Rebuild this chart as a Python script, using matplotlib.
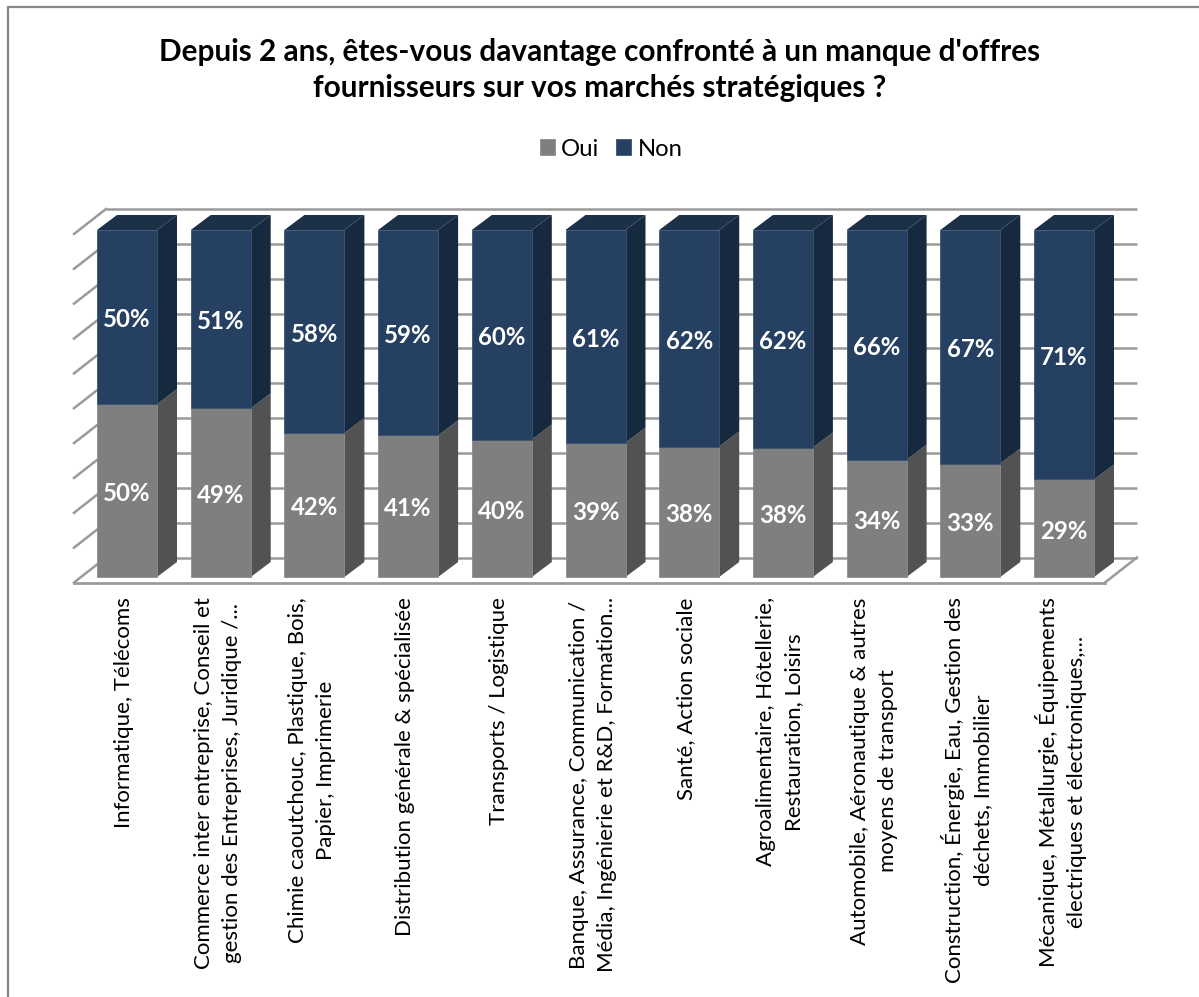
import matplotlib
matplotlib.use('Agg')
import matplotlib.pyplot as plt
from matplotlib.patches import Polygon, Rectangle

plt.rcParams['font.family'] = ['Lato', 'DejaVu Sans']

title = "Depuis 2 ans, êtes-vous davantage confronté à un manque d'offres\nfournisseurs sur vos marchés stratégiques ?"
categories = [
    "Informatique, Télécoms",
    "Commerce inter entreprise, Conseil et\ngestion des Entreprises, Juridique /...",
    "Chimie caoutchouc, Plastique, Bois,\nPapier, Imprimerie",
    "Distribution générale & spécialisée",
    "Transports / Logistique",
    "Banque, Assurance, Communication /\nMédia, Ingénierie et R&D, Formation...",
    "Santé, Action sociale",
    "Agroalimentaire, Hôtellerie,\nRestauration, Loisirs",
    "Automobile, Aéronautique & autres\nmoyens de transport",
    "Construction, Énergie, Eau, Gestion des\ndéchets, Immobilier",
    "Mécanique, Métallurgie, Équipements\nélectriques et électroniques,...",
]
# printed percentages
oui_labels = [50, 49, 42, 41, 40, 39, 38, 38, 34, 33, 29]
non_labels = [50, 51, 58, 59, 60, 61, 62, 62, 66, 67, 71]
# segment heights (labels are rounded)
oui = [49.8, 48.6, 41.5, 40.8, 39.6, 38.7, 37.6, 37.3, 33.8, 32.7, 28.1]
non = [50.2, 51.4, 58.5, 59.2, 60.4, 61.3, 62.4, 62.7, 66.2, 67.3, 71.9]

W, H = 1199, 997
step_px = 93.7      # distance between bars
y_px = 3.47         # pixels per 1%
x0_px, y0_px = 127, 577

fig = plt.figure(figsize=(W / 100, H / 100), dpi=100)
ax = fig.add_axes([0, 0, 1, 1])
ax.set_xlim(-x0_px / step_px, (W - x0_px) / step_px)
ax.set_ylim((y0_px - H) / y_px, y0_px / y_px)
ax.axis('off')

# depth of the 3d effect, in data units
dx = 20 / step_px
dy = 15 / y_px
half = 30 / step_px

# frame of the chart, only top and left are visible in the picture
fig.add_artist(Rectangle((8 / W, -20 / H), (W + 20) / W, (H + 20 - 6.5) / H, fill=False,
                         edgecolor='#868686', linewidth=1.6, transform=fig.transFigure))

# walls
wall_l = -half - 23 / step_px
wall_r = len(categories) - 1 + 71 / step_px - half
floor = -5.5 / y_px
wd = 32 / step_px
wh = 25 / y_px
grid_col = '#9a9a9a'
for i in range(11):
    yb = floor + wh + i * 10 * 34.85 / 34.7
    ax.plot([wall_l + wd, wall_r + wd], [yb, yb], color=grid_col, lw=1.8, zorder=1, solid_capstyle='butt')
    ax.plot([wall_l, wall_l + wd], [yb - wh, yb], color=grid_col, lw=1.8, zorder=1)
ax.plot([wall_l, wall_r], [floor, floor], color=grid_col, lw=2, zorder=1)
ax.plot([wall_r, wall_r + wd], [floor, floor + wh], color=grid_col, lw=1.8, zorder=1)

# bars
x = list(range(len(categories)))
w = 2 * half
ax.bar(x, oui, width=w, color='#7f7f7f', edgecolor='#8c8c8c', linewidth=0.6, zorder=3, label='Oui')
ax.bar(x, non, width=w, bottom=oui, color='#254061', edgecolor='#3a5270', linewidth=0.6, zorder=3, label='Non')

for i in x:
    r = i + half
    l = i - half
    top = oui[i] + non[i]
    ax.add_patch(Polygon([(r, 0), (r + dx, dy), (r + dx, oui[i] + dy), (r, oui[i])],
                         facecolor='#525252', edgecolor='none', zorder=2))
    ax.add_patch(Polygon([(r, oui[i]), (r + dx, oui[i] + dy), (r + dx, top + dy), (r, top)],
                         facecolor='#17293f', edgecolor='none', zorder=2))
    ax.add_patch(Polygon([(l, top), (r, top), (r + dx, top + dy), (l + dx, top + dy)],
                         facecolor='#1c3048', edgecolor='none', zorder=2))
    ax.text(i, oui[i] / 2 - 0.8, f'{oui_labels[i]}%', color='white', fontsize=17.3, fontweight='bold',
            ha='center', va='center', zorder=4)
    ax.text(i, oui[i] + non[i] / 2 - 0.8, f'{non_labels[i]}%', color='white', fontsize=17.3, fontweight='bold',
            ha='center', va='center', zorder=4)
    ax.text(i - 0.03, -5.8, categories[i], rotation=90, ha='center', va='top', fontsize=16,
            multialignment='center', color='black', linespacing=1.5)

fig.text(600 / W, 1 - 70 / H, title, ha='center', va='center', fontsize=21.4, fontweight='bold',
         linespacing=1.35)

handles, labels = ax.get_legend_handles_labels()
fig.legend(handles, labels, loc='center', bbox_to_anchor=(611 / W, 1 - 149 / H), ncol=2, frameon=False,
           fontsize=17.2, handlelength=0.63, handleheight=0.63, handletextpad=0.27, columnspacing=0.7)

fig.savefig('out.png', dpi=100, facecolor='white')
